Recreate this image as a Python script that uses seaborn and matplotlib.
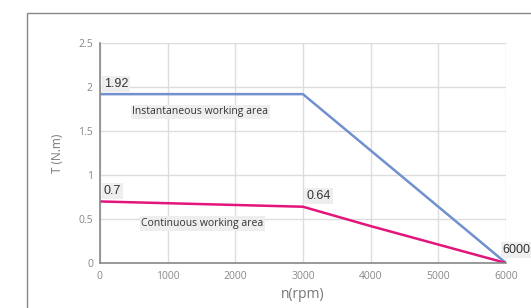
import pandas as pd
import seaborn as sns
import matplotlib.pyplot as plt
from matplotlib.patches import Rectangle

# -------------------- data -------------------- #
speed = [0, 3000, 6000]
torque_peak = [1.92, 1.92, 0]
speed_cont = [0, 3000, 4000, 5000, 6000]
torque_cont = [0.7, 0.64, 0.42, 0.21, 0]

blue = "#7190cf"
pink = "#e3147c"

sns.set_style("whitegrid")
plt.rcParams["font.family"] = ["Open Sans", "DejaVu Sans"]

fig = plt.figure(figsize=(5.31, 3.08), dpi=100)
ax = fig.add_axes([0.188, 0.146, 0.765, 0.714])

# outer frame, cut off at right and bottom
fig.patches.append(Rectangle((0.051, -0.1), 1.0, 1.058, transform=fig.transFigure,
                             fill=False, edgecolor="#888888", linewidth=1.0))

peak = pd.DataFrame({"n": speed, "T": torque_peak})
cont = pd.DataFrame({"n": speed_cont, "T": torque_cont})
sns.lineplot(data=peak, x="n", y="T", color=blue, linewidth=1.8, ax=ax)
sns.lineplot(data=cont, x="n", y="T", color=pink, linewidth=1.8, ax=ax)

ax.set_xlim(0, 6000)
ax.set_ylim(0, 2.5)
ax.set_xticks(range(0, 7000, 1000))
ax.set_yticks([0, 0.5, 1, 1.5, 2, 2.5])
ax.set_yticklabels(["0", "0.5", "1", "1.5", "2", "2.5"])
ax.tick_params(axis="both", labelsize=7.5, labelcolor="#888888", length=3, color="#888888", pad=2)
ax.tick_params(axis="x", length=0, pad=6)
ax.grid(color="#dddddd", linewidth=1)
for s in ["top", "right"]:
    ax.spines[s].set_visible(False)
for s in ["left", "bottom"]:
    ax.spines[s].set_color("#888888")
    ax.spines[s].set_linewidth(1.2)

ax.set_xlabel("n(rpm)", fontsize=10, color="#777777", labelpad=3)
ax.set_ylabel("T (N.m)", fontsize=8.5, color="#777777", labelpad=10)

box = dict(boxstyle="square,pad=0.15", facecolor="#eeeeee", edgecolor="none")
val_font = dict(fontsize=9, color="#333333", family=["Liberation Sans"], bbox=box)
ax.text(60, 1.97, "1.92", va="bottom", **val_font)
ax.text(60, 0.75, "0.7", va="bottom", **val_font)
ax.text(3050, 0.69, "0.64", va="bottom", **val_font)
ax.text(5950, 0.08, "6000", va="bottom", **val_font)

lab_font = dict(fontsize=7.5, color="#333333", bbox=box, va="center")
ax.text(480, 1.72, "Instantaneous working area", **lab_font)
ax.text(610, 0.45, "Continuous working area", **lab_font)

plt.savefig("out.png", dpi=100)
